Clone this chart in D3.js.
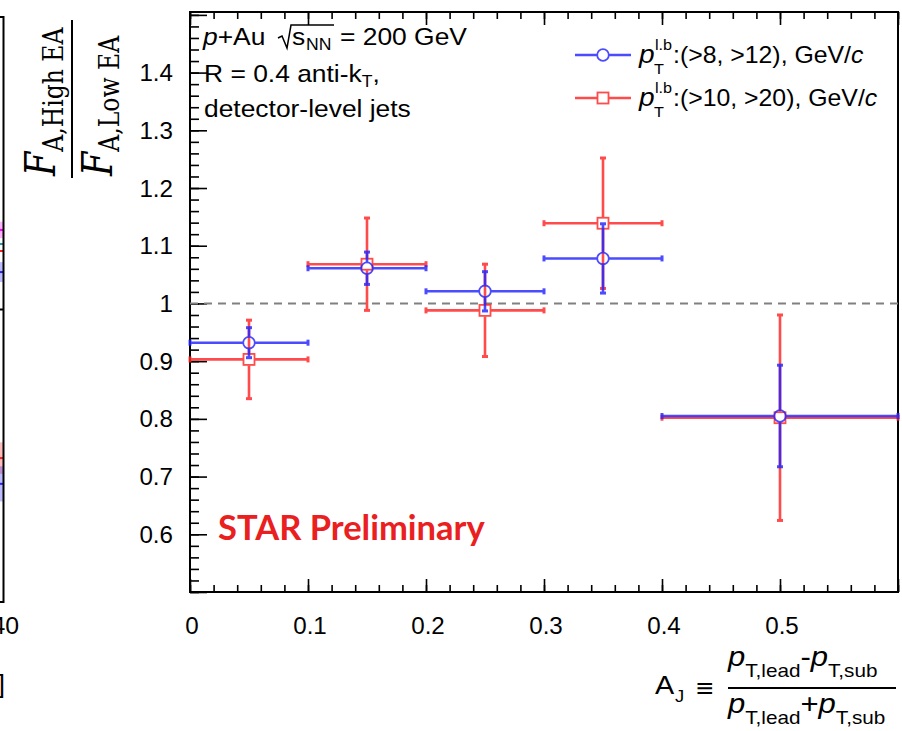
<!DOCTYPE html>
<html>
<head>
<meta charset="utf-8">
<script src="https://cdn.jsdelivr.net/npm/d3@7"></script>
<style>
  html, body { margin: 0; padding: 0; background: #fff; }
  svg { display: block; }
</style>
</head>
<body>
<svg id="chart" width="902" height="731"></svg>
<script>
// ---- data ----
const binLow    = [0.0, 0.1, 0.2, 0.3, 0.4];
const binHigh   = [0.1, 0.2, 0.3, 0.4, 0.6];
const binCenter = [0.05, 0.15, 0.25, 0.35, 0.5];

const lowThrVals = [0.932, 1.061, 1.021, 1.078, 0.805];   // p_T^{l.b} (>8, >12)
const lowThrErr  = [0.026, 0.028, 0.034, 0.060, 0.088];
const highThrVals = [0.903, 1.068, 0.988, 1.139, 0.802];  // p_T^{l.b} (>10, >20)
const highThrErr  = [0.068, 0.080, 0.080, 0.113, 0.178];

const seriesCuts = ["(>8, >12)", "(>10, >20)"];

const yTickValues = [0.6, 0.7, 0.8, 0.9, 1.0, 1.1, 1.2, 1.3, 1.4];
const yTickLabels = ["0.6", "0.7", "0.8", "0.9", "1", "1.1", "1.2", "1.3", "1.4"];
const xTickValues = [0, 0.1, 0.2, 0.3, 0.4, 0.5];
const xTickLabels = ["0", "0.1", "0.2", "0.3", "0.4", "0.5"];

// neighbouring panel (clipped at the left edge)
const nbVals   = [1.136, 1.112, 1.100, 1.064, 0.746, 0.702];
const nbErr    = [0.014, 0.000, 0.000, 0.017, 0.027, 0.030];
const nbColors = ["#ff00ff", "#20a0a0", "#ff2020", "#2020ff", "#ff2020", "#2020ff"];

// ---- setup ----
const svg = d3.select("#chart");
const ROOTFONT = "'Liberation Sans', Arial, Helvetica, sans-serif";
const SX = 1.08;   // horizontal stretch of the ROOT text

const x = d3.scaleLinear().domain([0, 0.6]).range([190, 898]);
const y = d3.scaleLinear().domain([0.5, 1.505]).range([592, 12]);

const blue = "#2424ff", red = "#ff2424";

// stretched text helper
function rtext(parent, px, py, size, anchor, sx) {
  return parent.append("g")
      .attr("transform", `translate(${px},${py}) scale(${sx || SX},1)`)
    .append("text")
      .attr("font-family", ROOTFONT)
      .attr("font-size", size)
      .attr("text-anchor", anchor || "start")
      .attr("fill", "#000");
}

// ---- neighbouring panel fragment ----
const nb = svg.append("g");
const nbY = d3.scaleLinear().domain([0.5, 1.5]).range([602, 17]);
nb.selectAll("rect.nb").data(nbVals).join("rect")
  .attr("x", 0).attr("width", 3)
  .attr("y", (d, i) => nbY(d + nbErr[i]))
  .attr("height", (d, i) => Math.max(0, nbY(d - nbErr[i]) - nbY(d + nbErr[i])))
  .attr("fill", (d, i) => nbColors[i]).attr("opacity", 0.3);
nb.selectAll("line.nb").data(nbVals).join("line")
  .attr("x1", 0).attr("x2", 3)
  .attr("y1", d => nbY(d)).attr("y2", d => nbY(d))
  .attr("stroke", (d, i) => nbColors[i]).attr("stroke-width", 2);
nb.append("path")
  .attr("d", `M0,${nbY(1.5)}H3.5V${nbY(0.5)}H0`)
  .attr("fill", "none").attr("stroke", "#000").attr("stroke-width", 2);
nb.append("line").attr("x1", 0).attr("x2", 3.5)
  .attr("y1", nbY(1.0)).attr("y2", nbY(1.0)).attr("stroke", "#000").attr("stroke-width", 2);
rtext(nb, 19, 634, 23, "end").text("40");
svg.append("text").attr("x", 5).attr("y", 693).attr("font-family", ROOTFONT)
  .attr("font-size", 26).attr("text-anchor", "end").text("]");

// ---- axes ticks (inside, ROOT style) ----
const yMinor = d3.range(0.5, 1.5001, 0.02).map(v => +v.toFixed(2));
const yMajor = d3.range(0.5, 1.5001, 0.1).map(v => +v.toFixed(2));
const xMinor = d3.range(0, 0.6001, 0.02).map(v => +v.toFixed(2));
const xMajor = d3.range(0, 0.6001, 0.1).map(v => +v.toFixed(2));

function tickAxis(axis, transform) {
  const g = svg.append("g").attr("transform", transform).call(axis);
  g.select(".domain").remove();
  g.selectAll("line").attr("stroke", "#000").attr("stroke-width", 1.6);
  g.selectAll("text").remove();
}
tickAxis(d3.axisLeft(y).tickValues(yMinor).tickSize(-9).tickFormat(""), "translate(190,0)");
tickAxis(d3.axisLeft(y).tickValues(yMajor).tickSize(-17).tickFormat(""), "translate(190,0)");
tickAxis(d3.axisBottom(x).tickValues(xMinor).tickSize(-7).tickFormat(""), "translate(0,592)");
tickAxis(d3.axisBottom(x).tickValues(xMajor).tickSize(-13).tickFormat(""), "translate(0,592)");
tickAxis(d3.axisTop(x).tickValues(xMinor).tickSize(-7).tickFormat(""), "translate(0,12)");
tickAxis(d3.axisTop(x).tickValues(xMajor).tickSize(-13).tickFormat(""), "translate(0,12)");

// frame
svg.append("rect").attr("x", 190).attr("y", 12).attr("width", 708).attr("height", 580)
  .attr("fill", "none").attr("stroke", "#000").attr("stroke-width", 2);

// tick labels
yTickValues.forEach((v, i) => rtext(svg, 173, y(v) + 8.5, 23, "end", 1.05).text(yTickLabels[i]));
xTickValues.forEach((v, i) => rtext(svg, x(v) + 2, 634, 23, "middle", 1.05).text(xTickLabels[i]));

// reference line at unity
svg.append("line").attr("x1", 190).attr("x2", 898).attr("y1", y(1)).attr("y2", y(1))
  .attr("stroke", "#808080").attr("stroke-width", 2).attr("stroke-dasharray", "8,6");

// ---- data series ----
function drawSeries(vals, errs, color, shape) {
  const g = svg.append("g").attr("opacity", 0.82);
  const gap = 6;
  vals.forEach((v, i) => {
    const cx = x(binCenter[i]), cy = y(v);
    const xl = x(binLow[i]), xh = x(binHigh[i]);
    const yt = y(v + errs[i]), yb = y(v - errs[i]);
    const seg = (x1, y1, x2, y2, w) => g.append("line")
      .attr("x1", x1).attr("y1", y1).attr("x2", x2).attr("y2", y2)
      .attr("stroke", color).attr("stroke-width", w);
    seg(xl, cy, cx - gap, cy, 2.6);
    seg(cx + gap, cy, xh, cy, 2.6);
    if (yt < cy - gap) seg(cx, yt, cx, cy - gap, 2.6);
    if (yb > cy + gap) seg(cx, cy + gap, cx, yb, 2.6);
    // end caps
    seg(xl, cy - 3, xl, cy + 3, 3);
    seg(xh, cy - 3, xh, cy + 3, 3);
    seg(cx - 3, yt, cx + 3, yt, 3);
    seg(cx - 3, yb, cx + 3, yb, 3);
    if (shape === "circle") {
      g.append("circle").attr("cx", cx).attr("cy", cy).attr("r", 5.8)
        .attr("fill", "none").attr("stroke", color).attr("stroke-width", 1.8);
    } else {
      g.append("rect").attr("x", cx - 5.5).attr("y", cy - 5.5).attr("width", 11).attr("height", 11)
        .attr("fill", "none").attr("stroke", color).attr("stroke-width", 1.8);
    }
  });
}
drawSeries(highThrVals, highThrErr, red, "square");
drawSeries(lowThrVals, lowThrErr, blue, "circle");

// ---- legend ----
const legendRows = [
  { y: 55, color: blue, shape: "circle", cut: seriesCuts[0] },
  { y: 98, color: red, shape: "square", cut: seriesCuts[1] }
];
legendRows.forEach(r => {
  const g = svg.append("g").attr("opacity", 0.82);
  g.append("line").attr("x1", 575).attr("x2", 631).attr("y1", r.y).attr("y2", r.y)
    .attr("stroke", r.color).attr("stroke-width", 2.6);
  if (r.shape === "circle") {
    g.append("circle").attr("cx", 603).attr("cy", r.y).attr("r", 5.8)
      .attr("fill", "#fff").attr("stroke", r.color).attr("stroke-width", 1.8);
  } else {
    g.append("rect").attr("x", 597.5).attr("y", r.y - 5.5).attr("width", 11).attr("height", 11)
      .attr("fill", "#fff").attr("stroke", r.color).attr("stroke-width", 1.8);
  }
  const by = r.y + 8;
  rtext(svg, 639, by, 26).attr("font-style", "italic").text("p");
  rtext(svg, 654, by + 11, 15).text("T");
  rtext(svg, 655, by - 13, 15).text("l.b");
  const t = rtext(svg, 673, by, 23);
  t.append("tspan").text(":" + r.cut + ", GeV/");
  t.append("tspan").attr("font-style", "italic").text("c");
});

// ---- info text ----
{
  const t1 = rtext(svg, 203, 45, 24, "start", 1.1);
  t1.append("tspan").attr("font-style", "italic").text("p");
  t1.append("tspan").text("+Au");
  svg.append("path").attr("d", "M278,38 L282,36 L287,48 L291,25 H334")
    .attr("fill", "none").attr("stroke", "#000").attr("stroke-width", 1.5);
  rtext(svg, 292, 45, 24, "start", 1.1).text("s");
  rtext(svg, 306, 50, 16, "start", 1.1).text("NN");
  rtext(svg, 340, 45, 24, "start", 1.1).text("= 200 GeV");

  const t2 = rtext(svg, 204, 82, 24, "start", 1.1);
  t2.append("tspan").text("R = 0.4 anti-k");
  t2.append("tspan").attr("font-size", 16).attr("dy", 5).text("T");
  t2.append("tspan").attr("dy", -5).text(",");

  rtext(svg, 204, 117, 24, "start", 1.1).text("detector-level jets");
}

// ---- preliminary label ----
svg.append("text").attr("x", 218).attr("y", 540)
  .attr("font-family", "Lato, 'Open Sans', sans-serif").attr("font-weight", 700)
  .attr("font-size", 34.5).attr("fill", "#ea2020").text("STAR Preliminary");

// ---- y-axis title: F_{A,High EA} / F_{A,Low EA} ----
{
  const SERIF = "'DejaVu Serif', 'Liberation Serif', serif";
  const frac = (bx, by, sub, subDy) => {
    const t = svg.append("g")
        .attr("transform", `translate(${bx},${by}) scale(1.2,1) rotate(-90)`)
      .append("text").attr("font-family", SERIF).attr("fill", "#000");
    t.append("tspan").attr("font-style", "italic").attr("font-size", 35).text("F");
    t.append("tspan").attr("font-size", 23.5).attr("dy", subDy).text(sub);
  };
  frac(55, 176, "A,High EA", 7);
  frac(112, 176, "A,Low EA", 6);
  svg.append("line").attr("x1", 72).attr("x2", 72).attr("y1", 20).attr("y2", 178)
    .attr("stroke", "#000").attr("stroke-width", 2);
}

// ---- x-axis title: A_J = (p_T,lead - p_T,sub)/(p_T,lead + p_T,sub) ----
{
  const XS = 1.15;
  rtext(svg, 655, 694, 25, "start", XS).text("A");
  rtext(svg, 675, 702, 16, "start", XS).text("J");
  rtext(svg, 696, 697, 26, "start", XS).text("\u2261");
  svg.append("line").attr("x1", 728).attr("x2", 896).attr("y1", 688).attr("y2", 688)
    .attr("stroke", "#000").attr("stroke-width", 1.8);
  const row = (by, op) => {
    const t = rtext(svg, 728, by, 27, "start", XS);
    t.append("tspan").attr("font-style", "italic").text("p");
    t.append("tspan").attr("font-size", 18).attr("dy", 11).text("T,lead");
    t.append("tspan").attr("dy", -11).text(op);
    t.append("tspan").attr("font-style", "italic").text("p");
    t.append("tspan").attr("font-size", 18).attr("dy", 11).text("T,sub");
  };
  row(666, "-");
  row(713, "+");
}
</script>
</body>
</html>
